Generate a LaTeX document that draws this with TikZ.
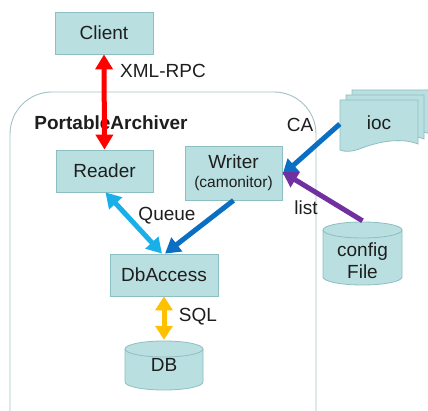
\documentclass[tikz,border=0pt]{standalone}
\usepackage{fontspec}
\setmainfont{Liberation Sans}
\usetikzlibrary{arrows.meta}
\definecolor{boxfill}{HTML}{BADFE1}
\definecolor{boxline}{HTML}{8DBEC2}
\definecolor{frameline}{HTML}{A3C2C4}
\definecolor{txt}{HTML}{1E1E1E}
\definecolor{redarr}{HTML}{FF0000}
\definecolor{lightblue}{HTML}{19B0EA}
\definecolor{darkblue}{HTML}{0A6FC2}
\definecolor{purplearr}{HTML}{7030A0}
\definecolor{orangearr}{HTML}{FFC000}
\tikzset{
  boxnode/.style={draw=boxline, fill=boxfill, line width=0.8pt, text=txt, inner sep=0pt, font=\fontsize{19}{22}\selectfont},
  plainnode/.style={text=txt, inner sep=0pt, font=\fontsize{19}{22}\selectfont},
  lbl/.style={text=txt, inner sep=0pt, font=\fontsize{19}{22}\selectfont},
  shapefill/.style={draw=boxline, fill=boxfill, line width=0.8pt},
  conn/.style={line width=5pt}
}
\begin{document}
\begin{tikzpicture}[x=1pt,y=-1pt]
\useasboundingbox (0,0) rectangle (428,411);
\fill[white] (0,0) rectangle (428,411);

% container frame
\draw[frameline, line width=0.9pt, rounded corners=42pt] (10,412) -- (10,92) -- (316,92) -- (316,412);
\node[lbl, font=\bfseries\fontsize{19}{22}\selectfont] (title) at (111,123) {PortableArchiver};

% boxes
\node[boxnode, minimum width=98pt, minimum height=42pt] (client) at (104,33) {Client};
\node[boxnode, minimum width=97pt, minimum height=42pt] (reader) at (104.5,171) {Reader};
\node[boxnode, minimum width=97pt, minimum height=54pt, align=center] (writer) at (233.5,173)
  {Writer\\[-3pt]{\fontsize{15.5}{17}\selectfont (camonitor)}};
\node[boxnode, minimum width=108pt, minimum height=42pt] (dbaccess) at (164,275) {DbAccess};

% ioc stacked documents
\foreach \dx/\dy in {12/-10, 6/-5, 0/0}{
  \filldraw[shapefill] (340+\dx,100+\dy) -- (418+\dx,100+\dy) -- (418+\dx,144+\dy)
    .. controls (400+\dx,137+\dy) and (378+\dx,142+\dy) .. (362+\dx,148+\dy)
    .. controls (352+\dx,152+\dy) and (345+\dx,152+\dy) .. (340+\dx,150+\dy) -- cycle;
}
\node[plainnode, minimum width=78pt, minimum height=46pt] (ioc) at (379,123) {ioc};

% config File cylinder
\filldraw[shapefill] (323,230) -- (323,277) arc[start angle=180, end angle=0, x radius=39.5, y radius=8] -- (402,230);
\filldraw[shapefill] (362.5,230) ellipse[x radius=39.5, y radius=8];
\node[plainnode, minimum width=79pt, minimum height=80pt, align=center] (config) at (362.5,261)
  {config\\File};

% DB cylinder
\filldraw[shapefill] (125,349) -- (125,382) arc[start angle=180, end angle=0, x radius=39, y radius=8] -- (203,349);
\filldraw[shapefill] (164,349) ellipse[x radius=39, y radius=8];
\node[plainnode, minimum width=78pt, minimum height=50pt] (db) at (164,365) {\raisebox{-3pt}{DB}};

% connectors
\draw[conn, redarr, {Triangle[length=15pt,width=17pt]}-{Triangle[length=15pt,width=17pt]}] (client.south) -- (reader.north);
\draw[conn, lightblue, {Triangle[length=15pt,width=17pt]}-{Triangle[length=15pt,width=17pt]}] ([xshift=1pt]reader.south) -- ([xshift=-2pt]dbaccess.north);
\draw[conn, darkblue, -{Triangle[length=15pt,width=17pt]}] (writer.south) -- ([xshift=1pt]dbaccess.north);
\draw[conn, darkblue, -{Triangle[length=15pt,width=17pt]}] ([yshift=-1pt]ioc.west) -- ([yshift=-2pt]writer.east);
\draw[conn, purplearr, -{Triangle[length=15pt,width=17pt]}] (config.north) -- ([yshift=1pt]writer.east);
\draw[conn, orangearr, {Triangle[length=14pt,width=17pt]}-{Triangle[length=14pt,width=17pt]}] (dbaccess.south) -- (db.north);

% labels
\node[lbl] (xmlrpc) at (163,71) {XML-RPC};
\node[lbl] (ca) at (300,125) {CA};
\node[lbl] (list) at (306,208) {list};
\node[lbl] (queue) at (167,216) {Queue};
\node[lbl] (sql) at (198,317) {SQL};
\end{tikzpicture}
\end{document}
